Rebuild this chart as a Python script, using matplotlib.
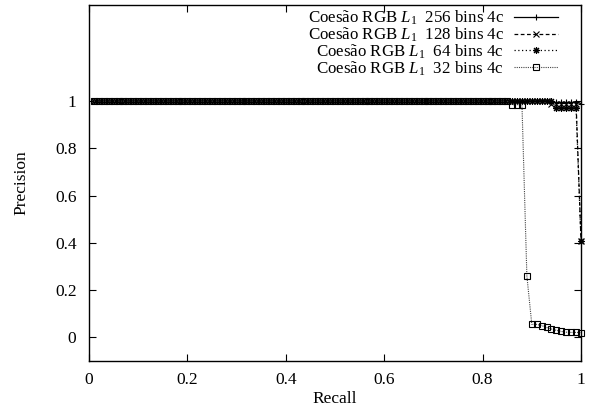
import numpy as np
import matplotlib
matplotlib.use("Agg")
import matplotlib.pyplot as plt
from matplotlib.ticker import FixedLocator

plt.rcParams['font.family'] = ['Liberation Serif', 'DejaVu Serif']
plt.rcParams['mathtext.fontset'] = 'custom'
plt.rcParams['mathtext.rm'] = 'Liberation Serif'
plt.rcParams['mathtext.it'] = 'Liberation Serif:italic'

# Data (recall levels and precision)
recall = [round(0.01 * k, 2) for k in range(1, 101)]
p256 = [1.0] * 93 + [0.995] * 6 + [0.99]
p128 = [1.0] * 93 + [0.99] * 6 + [0.41]
p64 = [1.0] * 94 + [0.97] * 5 + [0.41]
p32 = ([1.0] * 85 + [0.985] * 3 + [0.26] +
       [0.055, 0.055, 0.05, 0.042, 0.035, 0.03, 0.025, 0.022, 0.021, 0.021, 0.02])

labels = [r"Coesão RGB $L_1$  256 bins 4c",
          r"Coesão RGB $L_1$  128 bins 4c",
          r"Coesão RGB $L_1$  64 bins 4c",
          r"Coesão RGB $L_1$  32 bins 4c"]
xticks = [0, 0.2, 0.4, 0.6, 0.8, 1]
yticks = [0, 0.2, 0.4, 0.6, 0.8, 1]
ticklabels = ['0', '0.2', '0.4', '0.6', '0.8', '1']

fig = plt.figure(figsize=(5.91, 4.15), dpi=100)
ax = fig.add_axes([89/591, 54/415, (581-89)/591, (361-5)/415])

ax.plot(recall, p256, color='black', lw=0.9, ls='-', marker='+', ms=5, mew=0.8,
        label=labels[0], clip_on=False)
ax.plot(recall, p128, color='black', lw=0.9, ls=(0, (3, 2)), marker='x', ms=4, mew=0.8,
        label=labels[1], clip_on=False)
ax.plot(recall, p64, color='black', lw=0.9, ls=(0, (1, 2)), marker=(8, 2, 0), ms=5, mew=0.8,
        label=labels[2], clip_on=False)
ax.plot(recall, p32, color='#444444', lw=0.8, ls=(0, (1, 1)), marker='s', ms=4.5, mew=0.8,
        mfc='none', mec='black', label=labels[3], clip_on=False)

ax.set_xlim(0, 1)
ax.set_ylim(-0.1, 1.407)
ax.xaxis.set_major_locator(FixedLocator(xticks))
ax.yaxis.set_major_locator(FixedLocator(yticks))
ax.set_xticklabels(ticklabels)
ax.set_yticklabels(ticklabels)
ax.tick_params(direction='in', top=True, right=True, length=5, width=0.8,
               labelsize=12.5)
ax.tick_params(axis='x', pad=8)
ax.tick_params(axis='y', pad=9)
for s in ax.spines.values():
    s.set_linewidth(1.0)

ax.set_xlabel('Recall', fontsize=12.5, labelpad=2)
ax.set_ylabel('Precision', fontsize=12.5, labelpad=18)

leg = ax.legend(loc='upper right', markerfirst=False, frameon=False, fontsize=12.2,
                handlelength=2.6, handletextpad=0.6, labelspacing=-0.1,
                borderaxespad=0.0, borderpad=0.0)
# right edge of the key samples near x=558px, top near y=10px
leg.set_bbox_to_anchor((558/591, (415-9)/415), transform=fig.transFigure)

fig.savefig('out.png', dpi=100)
